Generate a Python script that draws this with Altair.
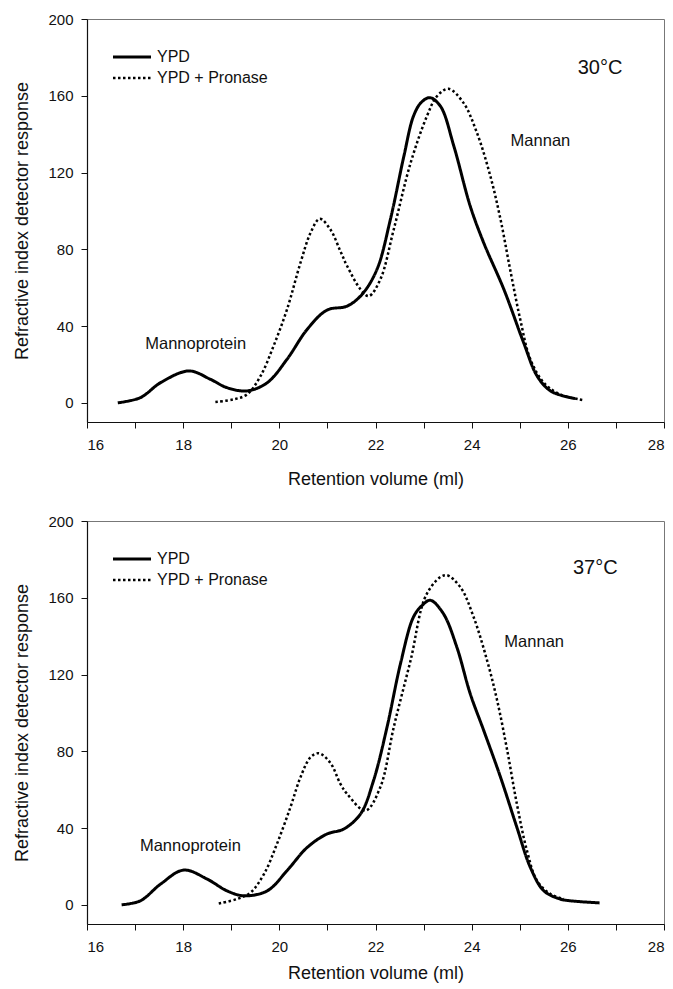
import altair as alt
import pandas as pd

series = ["YPD", "YPD + Pronase"]

# 30 °C panel
x30_ypd = [16.64, 17.11, 17.53, 18.12, 18.57, 18.91, 19.33, 19.75, 20.16, 20.58, 20.99, 21.41, 21.72,
           22.03, 22.31, 22.59, 22.79, 22.95, 23.13, 23.35, 23.63, 23.97, 24.25, 24.67, 25.08, 25.36,
           25.64, 26.05, 26.15]
y30_ypd = [0, 2.7, 10.5, 16.6, 12.2, 7.9, 6.2, 10.5, 22.7, 38.3, 48.3, 50.4, 56.5,
           69.5, 95.6, 128.5, 149.4, 156.5, 159, 154.6, 133.7, 102.5, 83.4, 59.1, 31.4, 14,
           6.2, 2.7, 2.2]
x30_pro = [18.67, 19.05, 19.33, 19.61, 19.88, 20.16, 20.44, 20.65, 20.84, 21.06, 21.27, 21.41, 21.69,
           21.86, 22.1, 22.38, 22.73, 23.07, 23.28, 23.52, 23.83, 24.11, 24.39, 24.6, 24.8, 25.01,
           25.22, 25.5, 25.84, 26.3]
y30_pro = [0.4, 1.8, 4.4, 14, 29.6, 48.7, 73, 88.6, 95.9, 90.4, 79, 71.3, 59.1,
           55.6, 64.3, 90.4, 125, 149.4, 159.8, 163.6, 156.3, 140.7, 118, 95.6, 69.5, 43.5,
           22.7, 10.5, 4.4, 1.5]

# 37 °C panel
x37_ypd = [16.72, 17.11, 17.53, 18.01, 18.5, 18.91, 19.26, 19.75, 20.16, 20.58, 20.99, 21.34, 21.69,
           21.96, 22.24, 22.52, 22.79, 22.97, 23.14, 23.41, 23.69, 23.97, 24.25, 24.6, 24.94, 25.22,
           25.5, 25.84, 26.05, 26.66]
y37_ypd = [0, 2.1, 10.8, 18.1, 13.4, 7.3, 4.7, 7.3, 17.8, 29.9, 36.9, 39.5, 47.4,
           64.8, 92.6, 125.7, 150, 156, 158.7, 151.8, 134.4, 110, 90.9, 66.5, 40.4, 19.5,
           7.3, 3, 2.1, 1]
x37_pro = [18.74, 19.12, 19.4, 19.68, 19.95, 20.23, 20.44, 20.65, 20.82, 21.06, 21.27, 21.41, 21.79,
           22.1, 22.38, 22.73, 23.07, 23.45, 23.76, 24.04, 24.32, 24.53, 24.74, 24.94, 25.15, 25.36,
           25.64, 25.92]
y37_pro = [0.7, 3, 6.4, 16, 31.7, 50.8, 66.5, 76.9, 79, 74, 63, 57.8, 49.1,
           61.3, 92.6, 127.4, 162.2, 171.8, 165.7, 150, 127.4, 106.5, 80.4, 52.6, 28.2, 12.5,
           5.6, 3]

x_ticks = list(range(16, 29))
y_ticks = [0, 40, 80, 120, 160, 200]

# annotations: text, x, y, font size
ann30_text = ["Mannoprotein", "Mannan", "30°C"]
ann30_x = [18.26, 25.43, 26.67]
ann30_y = [30.5, 136.4, 174.6]
ann37_text = ["Mannoprotein", "Mannan", "37°C"]
ann37_x = [18.15, 25.30, 26.57]
ann37_y = [30.8, 137, 175.6]
ann_size = [16.5, 16.5, 20]

FONT = "Liberation Sans"


def lines_df(xa, ya, xb, yb):
    rows = [{"series": series[0], "x": a, "y": b} for a, b in zip(xa, ya)]
    rows += [{"series": series[1], "x": a, "y": b} for a, b in zip(xb, yb)]
    return pd.DataFrame(rows)


def ann_df(t, xs, ys):
    return pd.DataFrame({"label": t, "x": xs, "y": ys, "fs": ann_size})


def panel(df, adf, title_pad):
    legend = alt.Legend(
        title=None, orient="none", legendX=34, legendY=27, padding=0,
        symbolType="M-2,0L2,0", symbolSize=361, symbolStrokeColor="black",
        labelFontSize=16, labelFont=FONT, labelColor="#111", labelOffset=14,
        rowPadding=2,
    )
    xenc = alt.X("x:Q", scale=alt.Scale(domain=[16, 28], nice=False, zero=False),
                 axis=alt.Axis(values=x_ticks, title="Retention volume (ml)",
                               labelExpr="datum.value % 2 == 0 ? datum.label : ''",
                               titlePadding=title_pad))
    yenc = alt.Y("y:Q", scale=alt.Scale(domain=[-10, 200], nice=False, zero=False),
                 axis=alt.Axis(values=y_ticks, title="Refractive index detector response",
                               titlePadding=16))
    line = alt.Chart(df).mark_line(interpolate="catmull-rom", color="black").encode(
        x=xenc, y=yenc,
        strokeDash=alt.StrokeDash("series:N", scale=alt.Scale(domain=series, range=[[1, 0], [2.5, 2.5]]),
                                  legend=legend),
        strokeWidth=alt.StrokeWidth("series:N", scale=alt.Scale(domain=series, range=[3, 2.5]),
                                    legend=legend),
        detail="series:N",
    )
    text = alt.Chart(adf).mark_text(font=FONT, color="#111", align="center", baseline="middle").encode(
        x="x:Q", y="y:Q", text="label:N",
        size=alt.Size("fs:Q", scale=None, legend=None),
    )
    return alt.layer(line, text).properties(width=577, height=403)


top = panel(lines_df(x30_ypd, y30_ypd, x30_pro, y30_pro), ann_df(ann30_text, ann30_x, ann30_y), 18)
bottom = panel(lines_df(x37_ypd, y37_ypd, x37_pro, y37_pro), ann_df(ann37_text, ann37_x, ann37_y), 10)

chart = alt.vconcat(top, bottom, spacing=24).resolve_scale(
    strokeDash="independent", strokeWidth="independent"
).resolve_legend(
    strokeDash="independent", strokeWidth="independent"
).properties(
    padding={"left": 5, "top": 3, "right": 0, "bottom": 0}
).configure_view(
    stroke="#777", strokeWidth=1
).configure_axis(
    labelFont=FONT, titleFont=FONT, labelFontSize=15, titleFontSize=18,
    titleFontWeight="normal", labelColor="#111", titleColor="#111",
    domainColor="#111", domainWidth=1.2, tickColor="#111", tickSize=6, tickWidth=1,
    labelPadding=8, grid=False,
).configure_axisX(labelPadding=9)

chart.save("out.html", embed_options={"renderer": "svg", "actions": False})
